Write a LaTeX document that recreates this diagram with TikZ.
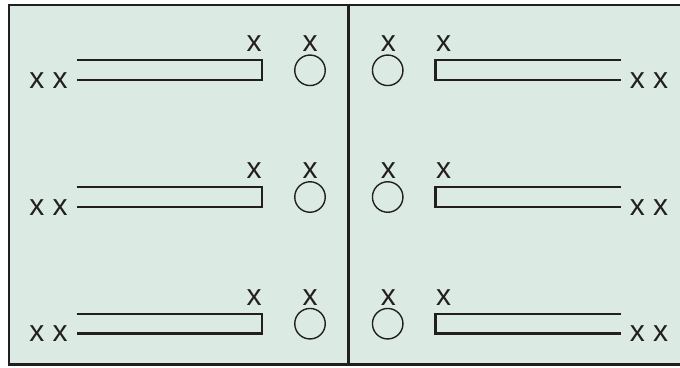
\documentclass[tikz,border=0pt]{standalone}
\usepackage{fontspec}
\setmainfont{Liberation Sans}
\definecolor{ink}{HTML}{231F20}
\definecolor{bg}{HTML}{DBEBE3}
\begin{document}
\begin{tikzpicture}[x=1pt,y=-1pt,
  lbl/.style={font=\fontsize{30}{30}\selectfont, inner sep=0pt, anchor=base, text=ink},
  slot/.style={draw=ink, line width=2.3pt},
  hole/.style={draw=ink, line width=1.4pt, circle, minimum size=30.5pt, inner sep=0pt},
  frame/.style={draw=ink, line width=2.6pt, fill=bg}]
\useasboundingbox (0,0) rectangle (680,367);
\path[frame] (9,5) rectangle (695,364.5);
\coordinate (dtop) at (348.7,5);
\coordinate (dbot) at (348.7,364.5);
\draw[ink, line width=2.6pt] (dtop) -- (dbot);
\foreach \i/\dy in {1/0, 2/126.7, 3/253.4}{
  \node[lbl] (lxx\i) at (48.5, 88.3+\dy) {x x};
  \node[lbl] (lx\i) at (254.2, 51.7+\dy) {x};
  \node[lbl] (lcx\i) at (310, 51.7+\dy) {x};
  \node[hole] (lc\i) at (310, 70.3+\dy) {};
  \node[hole] (rc\i) at (387.7, 70.3+\dy) {};
  \node[lbl] (rcx\i) at (388.3, 51.7+\dy) {x};
  \node[lbl] (rx\i) at (443.7, 51.7+\dy) {x};
  \node[lbl] (rxx\i) at (649, 88.3+\dy) {x x};
  \draw[slot] (76.7,60.3+\dy) -- (262.2,60.3+\dy) -- (262.2,80+\dy) -- (76.7,80+\dy);
  \draw[slot] (621,60.3+\dy) -- (435.5,60.3+\dy) -- (435.5,80+\dy) -- (621,80+\dy);
}
\end{tikzpicture}
\end{document}
